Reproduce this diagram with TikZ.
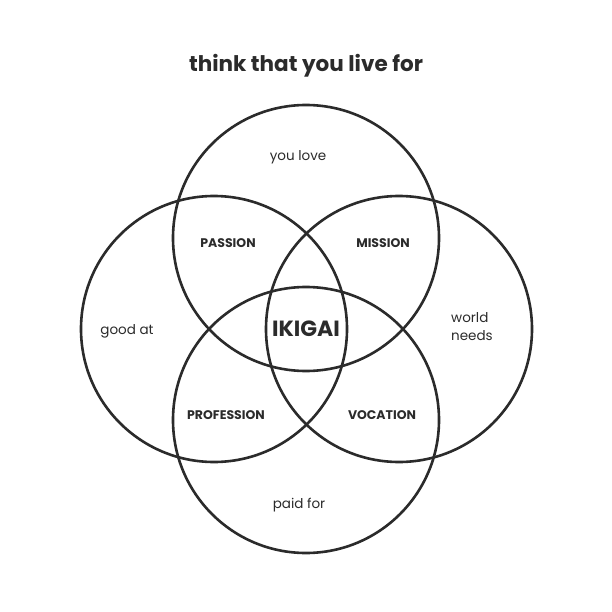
\documentclass[tikz,border=0pt]{standalone}
\usepackage{fontspec}
\setmainfont{Poppins}
\definecolor{ink}{HTML}{2B2B2B}

\begin{document}
\begin{tikzpicture}[x = 1pt, y = -1pt]
\tikzset{
  ring/.style = {draw = ink, line width = 2.6pt},
  zone/.style = {text = ink, font = \fontsize{12.5}{14}\selectfont\bfseries},
  word/.style = {text = ink, font = \fontsize{13.5}{18}\selectfont, align = left}
}
\useasboundingbox[fill = white] (0, 0) rectangle (612, 612);
\node[text = ink, font = \fontsize{21.5}{24}\selectfont\bfseries] (title) at (306, 66){think that you live for};
% the four circles
\draw[ring] (306, 238) circle [radius = 133];
\draw[ring] (214, 329) circle [radius = 133];
\draw[ring] (399, 329) circle [radius = 133];
\draw[ring] (306, 420) circle [radius = 133];
% outer labels
\node[word] (love) at (298, 157){you love};
\node[word] (good) at (127, 331){good at};
\node[word] (world) at (472, 327){world\\needs};
\node[word] (paid) at (299, 505){paid for};
% overlaps
\node[zone] (passion) at (228, 243){PASSION};
\node[zone] (mission) at (383, 243){MISSION};
\node[zone] (profession) at (226, 415){PROFESSION};
\node[zone] (vocation) at (382, 415){VOCATION};
\node[text = ink, font = \fontsize{22}{26}\selectfont\bfseries] (ikigai) at (306, 329){IKIGAI};
\end{tikzpicture}
\end{document}
